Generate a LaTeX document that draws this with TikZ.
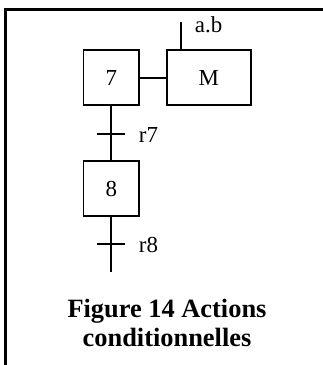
\documentclass[tikz,border=0pt]{standalone}
\usepackage{fontspec}
\setmainfont{Liberation Serif}
\begin{document}
\begin{tikzpicture}[x=1bp,y=-1bp,
  line width=1.9bp,
  stepbox/.style={draw,line width=1.9bp,minimum width=55.5bp,minimum height=55bp,
    inner sep=0pt,font=\fontsize{23}{26}\selectfont},
  actionbox/.style={stepbox,minimum width=84bp},
  lbl/.style={anchor=base west,inner sep=0pt,font=\fontsize{23}{26}\selectfont},
  caption/.style={anchor=base,inner sep=0pt,font=\fontsize{26.5}{30}\selectfont\bfseries},
  frame/.style={line width=3bp}]
\useasboundingbox (0,0) rectangle (323,365);
% outer frame (top and left edges)
\draw[frame] (5.7,366) -- (5.7,9.5) -- (324,9.5);
% steps and action
\node[stepbox] (s7) at (111.3,77.7) {7};
\node[actionbox] (M) at (208.7,77.7) {M};
\node[stepbox] (s8) at (111.3,188.5) {8};
\draw (s7) -- (M);
% condition on the action
\coordinate (ab) at (181,22);
\draw (M.north -| ab) -- (ab);
\node[lbl] (labab) at (194,32.5) {a.b};
% links and transitions
\coordinate (t7) at (111.3,134);
\coordinate (t8) at (111.3,244);
\coordinate (e8) at (111.3,272);
\draw (s7) -- (s8);
\draw (s8) -- (e8);
\draw (t7) +(-14,0) -- +(14,0);
\draw (t8) +(-14,0) -- +(14,0);
\node[lbl] (r7) at (138,142.5) {r7};
\node[lbl] (r8) at (138,252.5) {r8};
% caption
\node[caption] (cap1) at (167,317) {Figure 14 Actions};
\node[caption] (cap2) at (167,346) {conditionnelles};
\end{tikzpicture}
\end{document}
